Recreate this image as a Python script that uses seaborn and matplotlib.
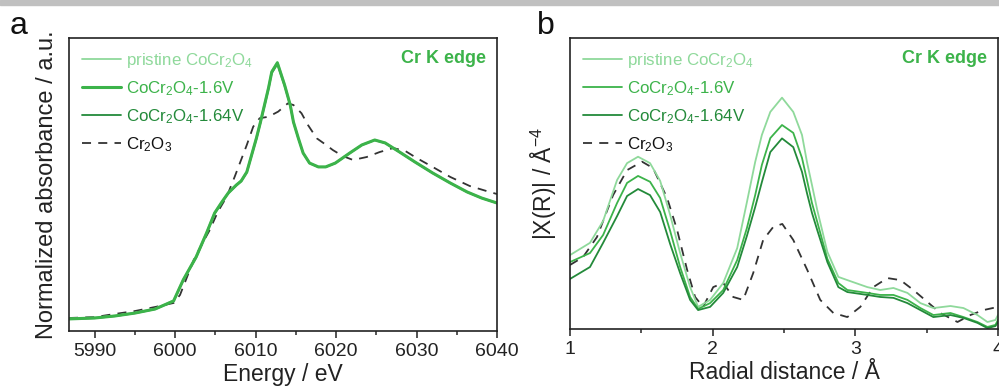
import matplotlib
matplotlib.use("Agg")
import matplotlib.pyplot as plt
import seaborn as sns
from matplotlib.patches import Rectangle
from matplotlib.ticker import MultipleLocator

# ---------------- data: panel a (XANES) ----------------
energy_main = [5986.8, 5990.0, 5992.5, 5995.0, 5997.5, 5999.8, 6001.0, 6002.6, 6003.9, 6004.9,
               6005.8, 6006.6, 6007.6, 6008.2, 6008.9, 6009.5, 6010.1, 6010.6, 6011.1, 6011.6,
               6012.0, 6012.7, 6013.6, 6014.3, 6014.7, 6015.3, 6015.9, 6016.7, 6017.8, 6018.7,
               6019.9, 6021.7, 6023.2, 6024.8, 6026.1, 6027.9, 6029.8, 6032.0, 6034.2, 6036.3,
               6038.1, 6040.0]
abs_16V = [0.066, 0.071, 0.082, 0.098, 0.120, 0.164, 0.279, 0.404, 0.535, 0.644,
           0.704, 0.754, 0.797, 0.819, 0.868, 0.961, 1.054, 1.141, 1.234, 1.327,
           1.414, 1.464, 1.343, 1.234, 1.141, 1.054, 0.972, 0.917, 0.896, 0.896,
           0.917, 0.972, 1.016, 1.043, 1.027, 0.977, 0.923, 0.863, 0.808, 0.759,
           0.726, 0.699]
abs_pristine = [0.068, 0.073, 0.084, 0.100, 0.122, 0.167, 0.283, 0.409, 0.540, 0.648,
                0.707, 0.757, 0.800, 0.822, 0.872, 0.966, 1.060, 1.148, 1.241, 1.334,
                1.421, 1.470, 1.349, 1.238, 1.144, 1.056, 0.973, 0.918, 0.897, 0.897,
                0.918, 0.973, 1.017, 1.044, 1.028, 0.978, 0.924, 0.864, 0.809, 0.760,
                0.727, 0.700]
abs_164V = [0.065, 0.070, 0.081, 0.097, 0.119, 0.162, 0.276, 0.400, 0.531, 0.641,
            0.701, 0.752, 0.795, 0.817, 0.865, 0.957, 1.049, 1.136, 1.228, 1.321,
            1.408, 1.458, 1.338, 1.231, 1.139, 1.052, 0.971, 0.916, 0.895, 0.895,
            0.916, 0.971, 1.015, 1.042, 1.026, 0.976, 0.922, 0.862, 0.807, 0.758,
            0.725, 0.698]
energy_cr2o3 = [5986.8, 5990.0, 5992.5, 5995.0, 5997.5, 5999.8, 6000.6, 6002.4, 6003.5, 6004.3,
                6005.3, 6006.4, 6007.4, 6008.9, 6009.7, 6010.5, 6011.6, 6012.8, 6014.0, 6014.7,
                6015.7, 6016.5, 6017.6, 6018.6, 6019.6, 6020.8, 6022.1, 6023.8, 6025.4, 6027.1,
                6028.6, 6030.0, 6032.0, 6034.2, 6036.6, 6039.1, 6040.0]
abs_cr2o3 = [0.071, 0.076, 0.093, 0.109, 0.131, 0.153, 0.197, 0.399, 0.488, 0.552,
             0.651, 0.733, 0.843, 1.016, 1.116, 1.162, 1.170, 1.198, 1.243, 1.234,
             1.189, 1.125, 1.052, 1.021, 0.988, 0.956, 0.934, 0.950, 0.977, 0.999,
             0.983, 0.945, 0.896, 0.841, 0.792, 0.759, 0.748]

# ---------------- data: panel b (EXAFS FT) ----------------
r_green = [1.000, 1.140, 1.232, 1.330, 1.400, 1.477, 1.561, 1.632, 1.702, 1.772,
           1.842, 1.898, 1.982, 2.074, 2.172, 2.240, 2.298, 2.345, 2.404, 2.486,
           2.565, 2.626, 2.661, 2.696, 2.733, 2.804, 2.881, 2.944, 3.084, 3.175,
           3.267, 3.365, 3.456, 3.547, 3.667, 3.758, 3.856, 3.926, 3.982, 4.000]
ft_pristine = [2.54, 2.96, 3.71, 5.12, 5.70, 5.92, 5.70, 5.09, 3.92, 2.61,
               1.44, 0.76, 1.00, 1.58, 2.78, 4.36, 5.74, 6.67, 7.46, 7.95,
               7.46, 6.67, 5.74, 4.95, 4.09, 2.65, 1.79, 1.68, 1.44, 1.34,
               1.41, 1.24, 0.89, 0.72, 0.79, 0.72, 0.48, 0.24, 0.31, 0.48]
ft_16V = [2.30, 2.61, 3.23, 4.33, 5.02, 5.26, 5.06, 4.50, 3.37, 2.13,
          1.10, 0.69, 0.89, 1.34, 2.37, 3.47, 4.60, 5.64, 6.56, 7.01,
          6.74, 5.88, 5.12, 4.33, 3.68, 2.41, 1.58, 1.34, 1.24, 1.17,
          1.17, 1.00, 0.72, 0.48, 0.55, 0.41, 0.24, 0.07, 0.14, 0.31]
ft_164V = [1.72, 2.13, 2.96, 3.88, 4.57, 4.81, 4.60, 4.02, 2.92, 1.92,
           1.00, 0.65, 0.76, 1.24, 2.13, 3.20, 4.19, 5.05, 6.08, 6.55,
           6.25, 5.40, 4.67, 3.99, 3.40, 2.30, 1.44, 1.27, 1.17, 1.10,
           1.07, 0.89, 0.65, 0.41, 0.48, 0.38, 0.21, 0.03, 0.10, 0.24]
r_cr2o3 = [1.000, 1.091, 1.189, 1.302, 1.400, 1.505, 1.582, 1.681, 1.751, 1.821,
           1.877, 1.933, 2.004, 2.074, 2.144, 2.214, 2.284, 2.354, 2.425, 2.488,
           2.565, 2.663, 2.754, 2.846, 2.944, 3.035, 3.126, 3.225, 3.316, 3.407,
           3.505, 3.596, 3.716, 3.807, 3.898, 4.000]
ft_cr2o3 = [2.20, 2.47, 3.16, 4.60, 5.46, 5.75, 5.53, 4.50, 3.40, 2.03,
            1.10, 0.76, 1.44, 1.58, 1.10, 1.00, 1.92, 3.06, 3.51, 3.61,
            3.06, 2.03, 1.00, 0.55, 0.41, 0.76, 1.44, 1.75, 1.68, 1.34,
            0.93, 0.55, 0.24, 0.48, 0.65, 0.76]

labels = ["pristine CoCr$_2$O$_4$", "CoCr$_2$O$_4$-1.6V", "CoCr$_2$O$_4$-1.64V", "Cr$_2$O$_3$"]
c_light, c_mid, c_dark, c_dash = "#8fd99b", "#3cb34a", "#238a3a", "#333333"
title_text = "Cr K edge"

sns.set_theme(style="white")
plt.rcParams["font.family"] = ["Liberation Sans", "DejaVu Sans"]
plt.rcParams["mathtext.fontset"] = "custom"
plt.rcParams["mathtext.rm"] = "Liberation Sans"
plt.rcParams["mathtext.it"] = "Liberation Sans:italic"
plt.rcParams["mathtext.bf"] = "Liberation Sans:bold"
plt.rcParams["mathtext.default"] = "regular"

fig = plt.figure(figsize=(9.99, 3.87), dpi=100)
fig.add_artist(Rectangle((0, 382 / 387), 1, 5 / 387, transform=fig.transFigure,
                         color="#c0c0c0", zorder=0))

axa = fig.add_axes([69 / 999, (387 - 331) / 387, (497 - 69) / 999, (331 - 38) / 387])
axb = fig.add_axes([570 / 999, (387 - 329) / 387, (998 - 570) / 999, (329 - 38) / 387])

def style(ax):
    for s in ax.spines.values():
        s.set_visible(True)
        s.set_color("#222222")
        s.set_linewidth(1.2)
    ax.tick_params(axis="x", which="major", direction="out", length=5, width=1.1,
                   labelsize=14, colors="#222222", pad=4, bottom=True)
    ax.tick_params(axis="x", which="minor", direction="out", length=3, width=1.1, bottom=True)
    ax.tick_params(axis="y", left=False, labelleft=False)
    ax.set_yticks([])

def draw(ax, x, y, color, lw, label, dashed=False):
    sns.lineplot(x=x, y=y, ax=ax, color=color, lw=lw, sort=False, estimator=None, label=label)
    line = ax.lines[-1]
    line.set_solid_joinstyle("round")
    if dashed:
        line.set_dashes((5, 4))

# panel a
draw(axa, energy_cr2o3, abs_cr2o3, c_dash, 1.3, labels[3], dashed=True)
draw(axa, energy_main, abs_pristine, c_light, 1.3, labels[0])
draw(axa, energy_main, abs_164V, c_dark, 1.3, labels[2])
draw(axa, energy_main, abs_16V, c_mid, 2.2, labels[1])
axa.set_xlim(5986.8, 6040)
axa.set_ylim(0, 1.6)
axa.xaxis.set_major_locator(MultipleLocator(10))
axa.xaxis.set_minor_locator(MultipleLocator(5))
style(axa)
axa.set_xlabel("Energy / eV", fontsize=16.5, color="#222222", labelpad=2)
axa.set_ylabel("Normalized absorbance / a.u.", fontsize=17, color="#222222", labelpad=8)

# panel b
draw(axb, r_cr2o3, ft_cr2o3, c_dash, 1.3, labels[3], dashed=True)
draw(axb, r_green, ft_pristine, c_light, 1.3, labels[0])
draw(axb, r_green, ft_16V, c_mid, 1.3, labels[1])
draw(axb, r_green, ft_164V, c_dark, 1.3, labels[2])
axb.set_xlim(1, 4)
axb.set_ylim(0, 10)
axb.xaxis.set_major_locator(MultipleLocator(1))
axb.xaxis.set_minor_locator(MultipleLocator(0.5))
style(axb)
axb.set_xlabel("Radial distance / Å", fontsize=16.5, color="#222222", labelpad=2)
axb.set_ylabel("|X(R)| / Å$^{-4}$", fontsize=16.5, color="#222222", labelpad=8)

for ax in (axa, axb):
    hs, ls = ax.get_legend_handles_labels()
    order = [labels.index(l) for l in ls]
    pairs = sorted(zip(order, hs, ls), key=lambda p: p[0])
    hs = [p[1] for p in pairs]
    ls = [p[2] for p in pairs]
    ax.legend(hs, ls, loc="upper left", frameon=False, fontsize=12.2, handlelength=2.3,
              handletextpad=0.3, labelspacing=0.55, borderaxespad=0.45, borderpad=0.3,
              labelcolor=[c_light, c_mid, c_dark, "#111111"])
    ax.text(0.975, 0.93, title_text, transform=ax.transAxes, ha="right", va="center",
            fontsize=13, fontweight="bold", color=c_mid)

fig.text(10 / 999, 1 - 26 / 387, "a", fontsize=23, va="center", ha="left", color="#111111")
fig.text(537 / 999, 1 - 26 / 387, "b", fontsize=23, va="center", ha="left", color="#111111")

fig.savefig("out.png", dpi=100)
